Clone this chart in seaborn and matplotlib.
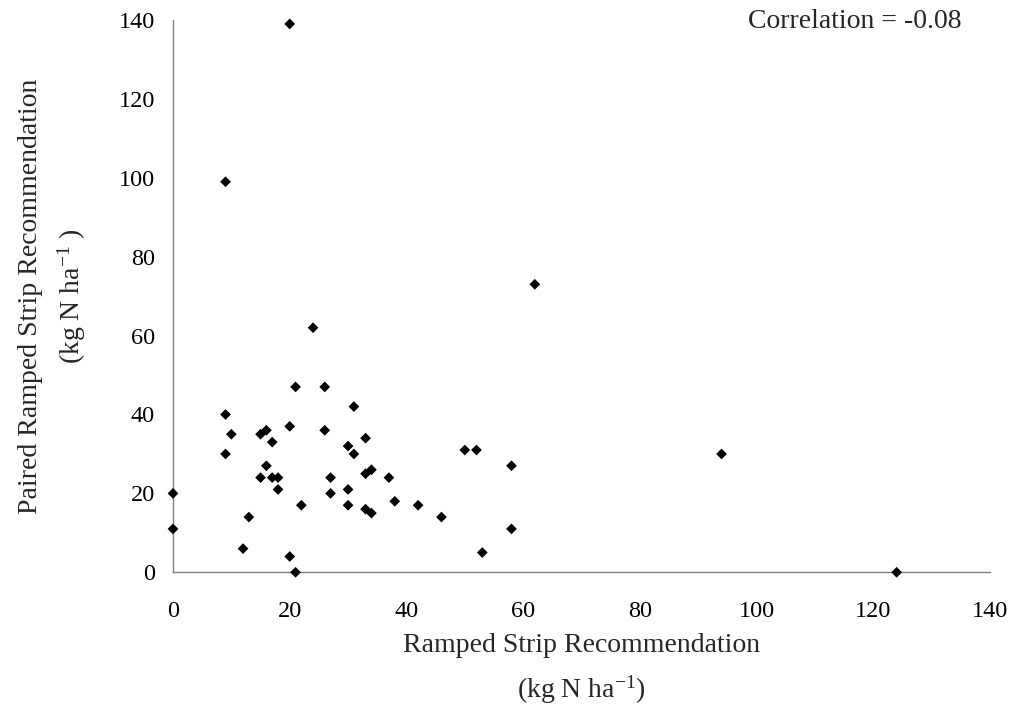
import matplotlib
matplotlib.use("Agg")
import matplotlib.pyplot as plt
import seaborn as sns
import pandas as pd

ramped = [20, 9, 62, 24, 9, 10, 9, 15, 16, 17, 16, 15, 17, 18, 18, 13, 12,
          20, 21, 22, 20, 21, 26, 26, 27, 27, 30, 31, 31, 30, 30, 33, 33, 34,
          33, 34, 37, 38, 0, 0, 42, 46, 50, 52, 58, 58, 53, 94, 124]
paired = [139, 99, 73, 62, 40, 35, 30, 35, 36, 33, 27, 24, 24, 24, 21, 14, 6,
          37, 47, 17, 4, 0, 47, 36, 24, 20, 32, 30, 42, 21, 17, 34, 25, 26,
          16, 15, 24, 18, 20, 11, 17, 14, 31, 31, 27, 11, 5, 30, 0]
x_ticks = [0, 20, 40, 60, 80, 100, 120, 140]
y_ticks = [0, 20, 40, 60, 80, 100, 120, 140]
x_label = "Ramped Strip Recommendation"
y_label = "Paired Ramped Strip Recommendation"
unit_x = r"(kg N ha$^{-1}$)"
unit_y = r"(kg N ha$^{-1}$ )"
corr_text = "Correlation = -0.08"

sns.set_style("white")
plt.rcParams['font.family'] = ['Liberation Serif', 'DejaVu Serif']
plt.rcParams['mathtext.fontset'] = 'custom'
plt.rcParams['mathtext.rm'] = 'Liberation Serif'
plt.rcParams['mathtext.it'] = 'Liberation Serif:italic'

W, H = 1014, 709
fig = plt.figure(figsize=(W / 100, H / 100), dpi=100)
ax = fig.add_axes([173 / W, 1 - 572.3 / H, 817 / W, 552.3 / H])

df = pd.DataFrame({"ramped": ramped, "paired": paired})
sns.scatterplot(data=df, x="ramped", y="paired", marker="D", color="black",
                edgecolor="none", s=30, ax=ax, clip_on=False, zorder=5)

ax.set_xlim(0, 140)
ax.set_ylim(0, 140)
ax.set_xticks(x_ticks)
ax.set_yticks(y_ticks)
ax.set_xlabel("")
ax.set_ylabel("")
for side in ["top", "right"]:
    ax.spines[side].set_visible(False)
for side in ["left", "bottom"]:
    ax.spines[side].set_color("#808080")
    ax.spines[side].set_linewidth(1.0)
ax.tick_params(axis="both", direction="out", length=5, width=1.0,
               color="#808080", labelsize=17.5, labelcolor="black")
ax.tick_params(axis="y", pad=8)
ax.tick_params(axis="x", pad=16)

fig.text(581.5 / W, 1 - 646 / H, x_label, ha="center", va="center", fontsize=20)
fig.text(581.5 / W, 1 - 690 / H, unit_x, ha="center", va="center", fontsize=20)
fig.text(31 / W, 1 - 296 / H, y_label, ha="center", va="center", fontsize=20,
         rotation=90)
fig.text(72 / W, 1 - 296 / H, unit_y, ha="center", va="center", fontsize=20,
         rotation=90)
fig.text(962 / W, 1 - 22 / H, corr_text, ha="right", va="center", fontsize=20)

fig.savefig("out.png", dpi=100)
